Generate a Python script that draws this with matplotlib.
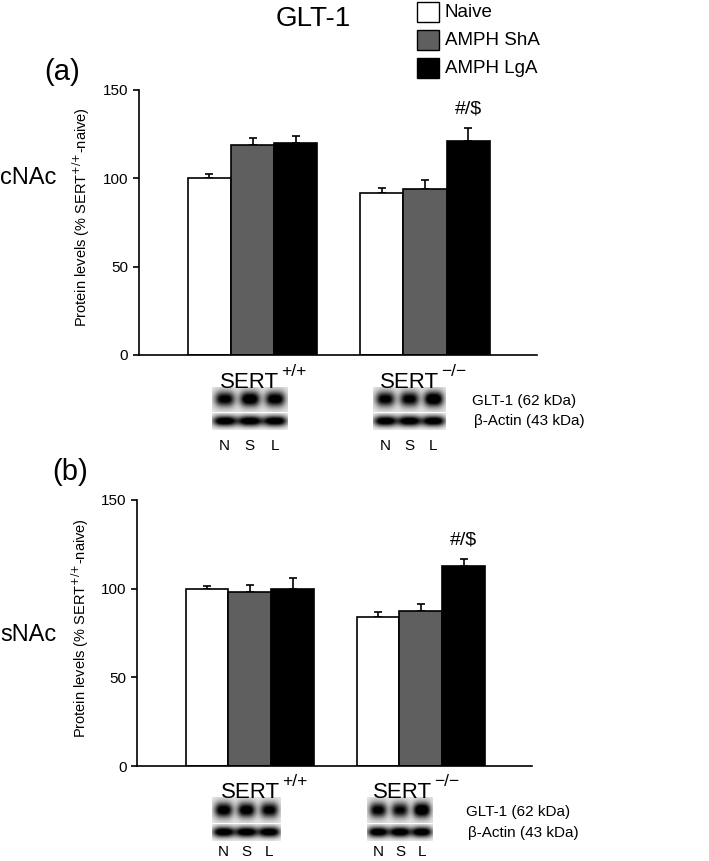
import numpy as np
import matplotlib
matplotlib.use("Agg")
import matplotlib.pyplot as plt
from matplotlib.patches import Rectangle

plt.rcParams['font.family'] = ['Liberation Sans', 'DejaVu Sans']

groups = ["SERT", "SERT"]
group_sup = ["+/+", "\u2212/\u2212"]
conditions = ["Naive", "AMPH ShA", "AMPH LgA"]
colors = ["white", "#5f5f5f", "black"]
lanes = ["N", "S", "L"]

# panel (a) cNAc
cnac_mean = {"Naive": [100, 91.7], "AMPH ShA": [118.8, 94.0], "AMPH LgA": [120.2, 121.3]}
cnac_err = {"Naive": [2.6, 2.8], "AMPH ShA": [4.0, 5.0], "AMPH LgA": [3.8, 7.0]}
# panel (b) sNAc
snac_mean = {"Naive": [100, 83.8], "AMPH ShA": [97.9, 87.6], "AMPH LgA": [100, 112.8]}
snac_err = {"Naive": [1.5, 3.2], "AMPH ShA": [4.3, 3.9], "AMPH LgA": [6.0, 4.0]}

cnac_glt = [[0.80, 0.90, 0.85], [0.80, 0.80, 0.95]]
snac_glt = [[0.85, 0.85, 0.80], [0.80, 0.75, 0.95]]
actin = [0.95, 0.95, 0.95]

group_left = [1.14, 5.14]
bar_w = 1.0


def blot_img(levels, sig_x, sig_y, bg):
    x = np.linspace(0, 3, 120)
    y = np.linspace(0, 1, 40)
    X, Y = np.meshgrid(x, y)
    dark = np.zeros_like(X)
    for i, lv in enumerate(levels):
        dark += lv * np.exp(-np.abs((X - i - 0.5) / sig_x) ** 3)
    dark *= np.exp(-((Y - 0.5) / sig_y) ** 2)
    return np.clip(bg - 1.25 * dark, 0, 1)


def draw_blot(fig, x0, w, y_glt, h_glt, y_act, h_act, glt_levels):
    a1 = fig.add_axes([x0, y_glt, w, h_glt])
    a1.imshow(blot_img(glt_levels, 0.40, 0.30, 0.90), cmap="gray", vmin=0, vmax=1,
              aspect="auto", interpolation="bilinear")
    a1.axis("off")
    a2 = fig.add_axes([x0, y_act, w, h_act])
    a2.imshow(blot_img(actin, 0.48, 0.30, 0.95), cmap="gray", vmin=0, vmax=1,
              aspect="auto", interpolation="bilinear")
    a2.axis("off")


def sert_label(fig, x, y, sup):
    fig.text(x, y, "SERT", ha="right", va="center", fontsize=16)
    fig.text(x + 0.003, y + 0.012, sup, ha="left", va="center", fontsize=12.5)


def panel(fig, rect, means, errs):
    ax = fig.add_axes(rect)
    for j, cond in enumerate(conditions):
        xs = [g + j * bar_w + bar_w / 2 for g in group_left]
        ax.bar(xs, means[cond], width=bar_w, color=colors[j], edgecolor="black",
               linewidth=1.2, zorder=2)
        ax.errorbar(xs, means[cond], yerr=[[0, 0], errs[cond]], fmt="none",
                    ecolor="black", elinewidth=1.2, capsize=3, capthick=1.2, zorder=1)
    ax.set_xlim(0, 9.24)
    ax.set_ylim(0, 150)
    ax.set_yticks([0, 50, 100, 150])
    ax.set_xticks([])
    ax.spines["top"].set_visible(False)
    ax.spines["right"].set_visible(False)
    ax.spines["left"].set_linewidth(1.2)
    ax.spines["bottom"].set_linewidth(1.2)
    ax.tick_params(axis="y", direction="out", length=4, width=1.2, labelsize=11)
    ax.set_ylabel("Protein levels (% SERT$^{{+}/{+}}$-naive)", fontsize=10.5)
    ax.yaxis.set_label_coords(-0.117, 0.52)
    top = means["AMPH LgA"][1] + errs["AMPH LgA"][1]
    ax.text(group_left[1] + 2.5 * bar_w, top + 6, "#/$", ha="center", va="bottom",
            fontsize=14)
    return ax


fig = plt.figure(figsize=(7.09, 8.61), dpi=100)

fig.text(0.442, 0.978, "GLT-1", ha="center", va="center", fontsize=20)

# legend boxes
for k, cond in enumerate(conditions):
    yc = 0.986 - k * 0.0325
    fig.patches.append(Rectangle((0.588, yc - 0.0115), 0.031, 0.023, transform=fig.transFigure,
                                 facecolor=colors[k], edgecolor="black", linewidth=1.0))
    fig.text(0.627, yc, cond, ha="left", va="center", fontsize=13.5)

panel(fig, [0.1956, 0.5877, 0.562, 0.3078], cnac_mean, cnac_err)
panel(fig, [0.1932, 0.1103, 0.557, 0.309], snac_mean, snac_err)

fig.text(0.063, 0.916, "(a)", ha="left", va="center", fontsize=21)
fig.text(0.073, 0.452, "(b)", ha="left", va="center", fontsize=21)
fig.text(0.0, 0.793, "cNAc", ha="left", va="center", fontsize=17)
fig.text(0.0, 0.263, "sNAc", ha="left", va="center", fontsize=17)

# panel (a) blots
for g, (cx, x0, w) in enumerate([(0.393, 0.299, 0.106), (0.619, 0.526, 0.102)]):
    sert_label(fig, cx, 0.556, group_sup[g])
    draw_blot(fig, x0, w, 0.521, 0.030, 0.500, 0.020, cnac_glt[g])
    for i, ln in enumerate(lanes):
        fig.text(x0 + w * (i + 0.5) / 3, 0.482, ln, ha="center", va="center", fontsize=11)
fig.text(0.666, 0.534, "GLT-1 (62 kDa)", ha="left", va="center", fontsize=11)
fig.text(0.668, 0.511, "β-Actin (43 kDa)", ha="left", va="center", fontsize=11)

# panel (b) blots
for g, (cx, x0, w) in enumerate([(0.395, 0.299, 0.096), (0.609, 0.518, 0.093)]):
    sert_label(fig, cx, 0.080, group_sup[g])
    draw_blot(fig, x0, w, 0.044, 0.030, 0.023, 0.020, snac_glt[g])
    for i, ln in enumerate(lanes):
        fig.text(x0 + w * (i + 0.5) / 3, 0.010, ln, ha="center", va="center", fontsize=11)
fig.text(0.657, 0.057, "GLT-1 (62 kDa)", ha="left", va="center", fontsize=11)
fig.text(0.660, 0.032, "β-Actin (43 kDa)", ha="left", va="center", fontsize=11)

fig.savefig("out.png", dpi=100)
